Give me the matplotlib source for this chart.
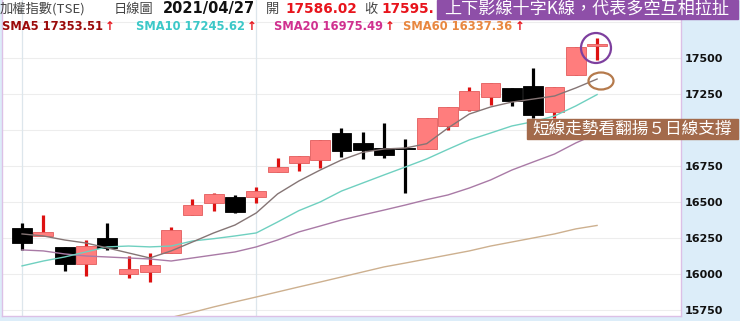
import numpy as np
import matplotlib.pyplot as plt
from matplotlib.patches import Rectangle, Ellipse

# daily candles (index 0 .. 27, last = 2021/04/27)
opens = [16320, 16264, 16188, 16069, 16250, 16000, 16014, 16146, 16410, 16493,
         16535, 16535, 16708, 16771, 16792, 16979, 16910, 16875, 16872, 16868,
         17028, 17139, 17229, 17292, 17306, 17125, 17382, 17586]
highs = [16354, 16410, 16190, 16236, 16354, 16125, 16146, 16326, 16521, 16560,
         16549, 16604, 16806, 16819, 16931, 17014, 16986, 17049, 16937, 17083,
         17160, 17299, 17326, 17292, 17431, 17299, 17576, 17639]
lows = [16167, 16262, 16021, 15986, 16167, 15972, 15944, 16146, 16410, 16438,
        16424, 16493, 16708, 16715, 16736, 16812, 16799, 16806, 16562, 16868,
        17000, 17132, 17174, 17167, 17083, 17083, 17382, 17486]
closes = [16215, 16292, 16069, 16194, 16181, 16035, 16062, 16306, 16479, 16556,
          16431, 16576, 16743, 16819, 16931, 16854, 16861, 16826, 16868, 17083,
          17160, 17271, 17326, 17201, 17104, 17299, 17576, 17595]

sma5 = [16278, 16264, 16236, 16215, 16181, 16146, 16111, 16160, 16222, 16285,
        16340, 16424, 16556, 16646, 16722, 16792, 16845, 16868, 16875, 16905,
        17014, 17111, 17160, 17194, 17215, 17236, 17292, 17354]
sma10 = [16056, 16090, 16118, 16153, 16188, 16194, 16188, 16194, 16229, 16245,
         16264, 16285, 16361, 16440, 16500, 16576, 16632, 16688, 16743, 16799,
         16866, 16931, 16979, 17028, 17058, 17097, 17167, 17246]
sma20 = [16167, 16160, 16139, 16125, 16118, 16111, 16104, 16090, 16111, 16132,
         16153, 16188, 16236, 16292, 16333, 16375, 16410, 16444, 16479, 16516,
         16549, 16597, 16653, 16722, 16778, 16833, 16910, 16975]
sma60 = [np.nan] * 6 + [15675, 15698, 15733, 15771, 15806, 15840, 15875, 15910,
                        15944, 15979, 16014, 16049, 16076, 16104, 16132, 16160,
                        16194, 16222, 16250, 16278, 16313, 16337]
grid_levels = [15750, 16000, 16250, 16500, 16750, 17000, 17250, 17500, 17750]
# 17000 sits under the brown note box in the original, so no label for it
tick_levels = [15750, 16000, 16250, 16500, 16750, 17250, 17500]

W, H = 740, 321


def fx(px):
    return px / W


def fy(py):
    return 1 - py / H


def main():
    fig = plt.figure(figsize=(7.4, 3.21), dpi=100, facecolor='#dcedf9')
    ax = fig.add_axes([fx(2), 5 / H, 679 / W, 316 / H])
    ax.set_facecolor('white')

    n = len(closes)
    x = np.arange(n)

    # grid
    for v in grid_levels:
        ax.axhline(v, color='#ededed', lw=0.8, zorder=0)
    for v in [0, 11]:
        ax.axvline(v, color='#dde6ec', lw=0.9, zorder=0)

    # candles
    for i in range(n):
        o, h, l, c = opens[i], highs[i], lows[i], closes[i]
        up = c >= o
        wick = '#dd1111' if up else 'black'
        face = '#ff7d7d' if up else 'black'
        edge = '#e25c5c' if up else 'black'
        ax.vlines(i, l, h, color=wick, lw=2.3, zorder=2)
        bot = min(o, c)
        hgt = max(abs(c - o), 7)
        ax.bar(i, hgt, bottom=bot, width=0.93, color=face, edgecolor=edge,
               linewidth=0.6, zorder=3)

    # moving averages
    ax.plot(x, sma60, color='#cdb08f', lw=1.0, zorder=4)
    ax.plot(x, sma20, color='#a97aa6', lw=1.0, zorder=4)
    ax.plot(x, sma10, color='#6fd0c0', lw=1.0, zorder=4)
    ax.plot(x, sma5, color='#857575', lw=1.0, zorder=4)

    ax.set_xlim(-0.94, 30.94)
    ax.set_ylim(15708, 17903)
    ax.set_xticks([])
    ax.set_yticks(tick_levels)
    ax.yaxis.tick_right()
    ax.tick_params(axis='y', length=0, pad=3, labelsize=8, labelcolor='#111111')
    for lbl in ax.get_yticklabels():
        lbl.set_fontweight('bold')
    for s in ['left', 'right', 'bottom']:
        ax.spines[s].set_color('#dcc0e6')
        ax.spines[s].set_linewidth(1.0)
    ax.spines['top'].set_visible(False)

    # header row 1
    cjk = ['Noto Sans CJK TC', 'DejaVu Sans']
    hy = fy(9)
    fig.text(fx(0), hy, '加權指數(TSE)', family=cjk, fontsize=9.5, color='#444444', va='center')
    fig.text(fx(114), hy, '日線圖', family=cjk, fontsize=9.5, color='#444444', va='center')
    fig.text(fx(163), hy, '2021/04/27', fontsize=10.5, fontweight='bold', color='#111111', va='center')
    fig.text(fx(266), hy, '開', family=cjk, fontsize=9.5, color='#444444', va='center')
    fig.text(fx(285), hy, '17586.02', fontsize=9.8, fontweight='bold', color='#e8141c', va='center')
    fig.text(fx(364), hy, '收', family=cjk, fontsize=9.5, color='#444444', va='center')
    fig.text(fx(381), hy, '17595.', fontsize=9.8, fontweight='bold', color='#e8141c', va='center')

    # header row 2: moving average readouts, each followed by a red up arrow
    renderer = fig.canvas.get_renderer()
    sy = fy(26)
    labels = [('SMA5 17353.51', '#9b0a0a', 2),
              ('SMA10 17245.62', '#3cc8c8', 136),
              ('SMA20 16975.49', '#d0308f', 274),
              ('SMA60 16337.36', '#e8873f', 403)]
    for txt, col, x0 in labels:
        t = fig.text(fx(x0), sy, txt, fontsize=8.3, fontweight='bold', color=col, va='center')
        x1 = t.get_window_extent(renderer).x1
        fig.text(fx(x1 + 2), sy, '↑', fontsize=8.5, fontweight='bold', color='#e8141c', va='center')

    # annotation boxes
    fig.patches.append(Rectangle((fx(437), fy(19)), fx(738 - 437), 19 / H,
                                 transform=fig.transFigure, color='#8e4fa8', zorder=5))
    fig.text(fx(587), fy(9.5), '上下影線十字K線，代表多空互相拉扯', family=cjk,
             fontsize=12.3, color='white', ha='center', va='center', zorder=6)
    fig.patches.append(Rectangle((fx(527), fy(139)), fx(738 - 527), 20 / H,
                                 transform=fig.transFigure, color='#a36a4b', zorder=5))
    fig.text(fx(632), fy(129), '短線走勢看翻揚５日線支撐', family=cjk,
             fontsize=12.0, color='white', ha='center', va='center', zorder=6)

    # circles
    fig.patches.append(Ellipse((fx(596), fy(48)), 30 / W, 30 / H, transform=fig.transFigure,
                               fill=False, edgecolor='#7d3f9e', lw=1.6, zorder=6))
    fig.patches.append(Ellipse((fx(601), fy(81)), 25 / W, 17 / H, transform=fig.transFigure,
                               fill=False, edgecolor='#b57a4c', lw=1.6, zorder=6))

    fig.savefig('out.png', dpi=100, facecolor=fig.get_facecolor())


if __name__ == "__main__":
    main()
